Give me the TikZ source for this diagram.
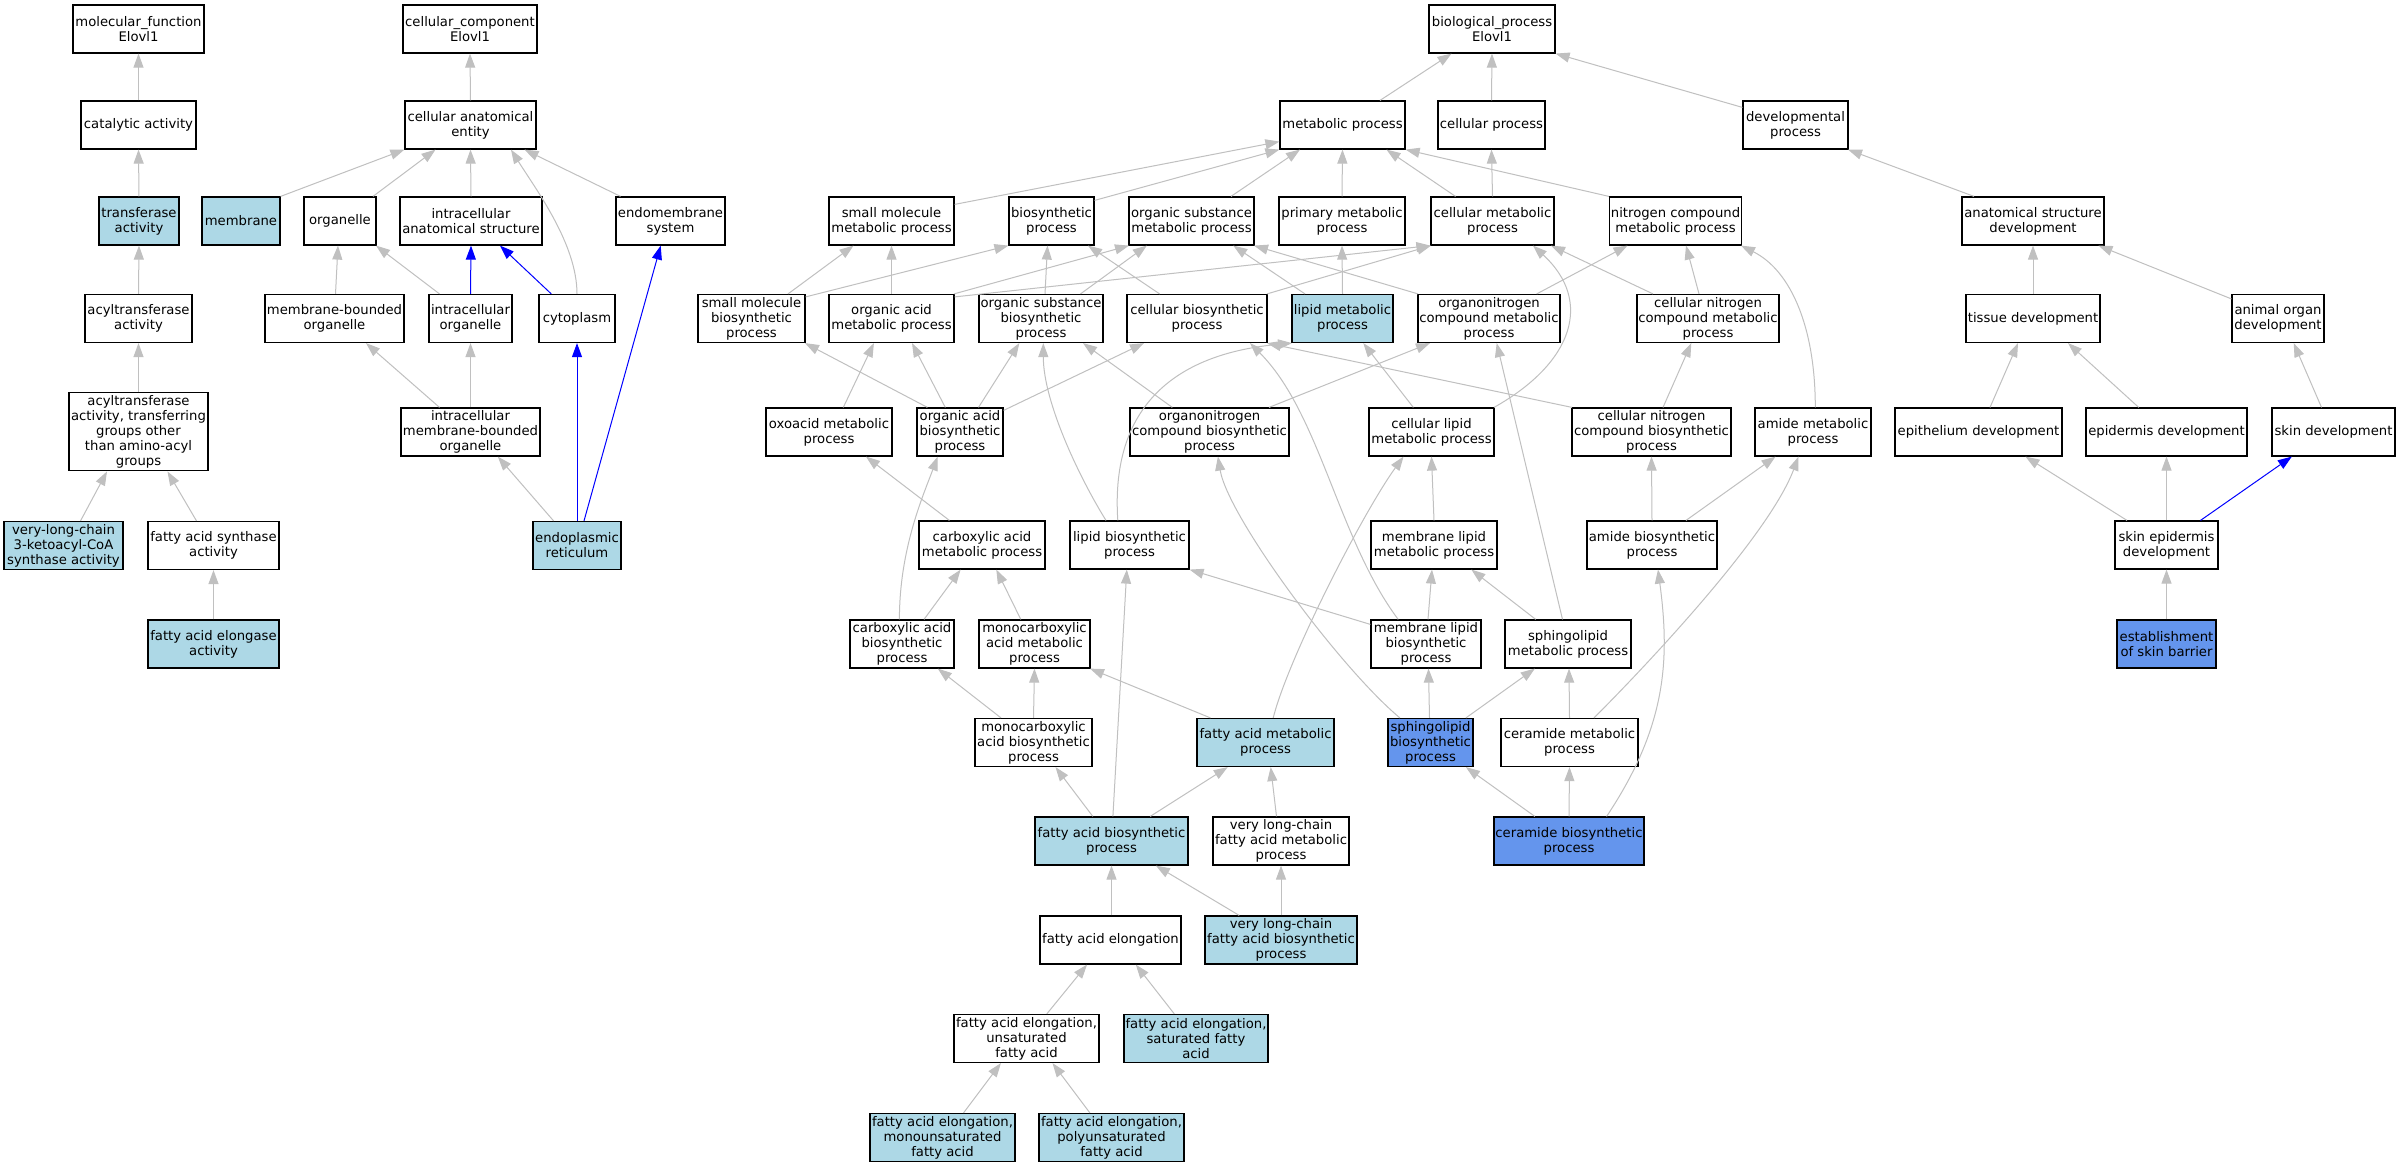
\documentclass[tikz,border=0pt]{standalone}
\usepackage{fontspec}
\setmainfont{DejaVu Sans}
\usetikzlibrary{arrows.meta,calc}

\definecolor{lightblue}{HTML}{ADD8E6}
\definecolor{cornflower}{HTML}{6495ED}
\definecolor{edgegray}{HTML}{C0C0C0}

\tikzset{every picture/.style={line width=0.75pt}}
\tikzset{
	term/.style={draw, rectangle, line width=0.9pt, minimum width=#1*0.75pt, minimum height=36pt, inner sep=1pt, align=center, font=\fontsize{9.9}{11.25}\selectfont},
	lb/.style={fill=lightblue},
	cb/.style={fill=cornflower},
	isa/.style={draw=edgegray, line width=0.75pt, -{Triangle[length=10.5pt,width=7.5pt]}}
}
% straight link: child top (x offset) to parent bottom (x offset)
\newcommand\lnk[5][]{\draw[isa,#1] ($(#2.north)+(#3,0)$) -- ($(#4.south)+(#5,0)$);}
% curved link, last two arguments move the control points
\newcommand\clnk[7][]{\draw[isa,#1] ($(#2.north)+(#3,0)$) .. controls ($(#2.north)+(#3,0)+(#6)$) and ($(#4.south)+(#5,0)+(#7)$) .. ($(#4.south)+(#5,0)$);}

\begin{document}
\begin{tikzpicture}[x=0.75pt,y=0.75pt,yscale=-1,xscale=1]
	\path[fill=white] (0,0) rectangle (2400,1168);
	\useasboundingbox (0,0) rectangle (2400,1168);

	% Text Node: molecular function
	\node[term=131] (mf) at (138.5,29) {molecular\_function\\Elovl1};
	\node[term=115] (cat) at (138.5,125) {catalytic activity};
	\node[term=80,lb] (trans) at (139,221) {transferase\\activity};
	\node[term=107] (acyl) at (138.5,318.5) {acyltransferase\\activity};
	\node[term=139,minimum height=59pt] (acylo) at (138.5,431.5) {acyltransferase\\activity, transferring\\groups other\\than amino-acyl\\groups};
	\node[term=119,lb] (vlck) at (63.5,545.5) {very-long-chain\\3-ketoacyl-CoA\\synthase activity};
	\node[term=131] (fas) at (213.5,545.5) {fatty acid synthase\\activity};
	\node[term=131,lb] (fae) at (213.5,644) {fatty acid elongase\\activity};

	% Text Node: cellular component
	\node[term=134] (cc) at (470,29) {cellular\_component\\Elovl1};
	\node[term=131] (cae) at (470.5,125) {cellular anatomical\\entity};
	\node[term=78,lb] (mem) at (241,221) {membrane};
	\node[term=72] (org) at (340,221) {organelle};
	\node[term=142] (ias) at (471,221) {intracellular\\anatomical structure};
	\node[term=109] (ems) at (670.5,221) {endomembrane\\system};
	\node[term=139] (mbo) at (334.5,318.5) {membrane-bounded\\organelle};
	\node[term=83] (io) at (470.5,318.5) {intracellular\\organelle};
	\node[term=76] (cyt) at (577,318.5) {cytoplasm};
	\node[term=139] (imbo) at (470.5,432) {intracellular\\membrane-bounded\\organelle};
	\node[term=88,lb] (er) at (577,545.5) {endoplasmic\\reticulum};

	% Text Node: biological process, upper rows
	\node[term=126] (bp) at (1492,29) {biological\_process\\Elovl1};
	\node[term=125] (met) at (1342.5,125) {metabolic process};
	\node[term=107] (cp) at (1491.5,125) {cellular process};
	\node[term=105] (dev) at (1795.5,125) {developmental\\process};
	\node[term=125] (smm) at (891.5,221) {small molecule\\metabolic process};
	\node[term=85] (bio) at (1051.5,221) {biosynthetic\\process};
	\node[term=125] (osm) at (1191.5,221) {organic substance\\metabolic process};
	\node[term=126] (pm) at (1342,221) {primary metabolic\\process};
	\node[term=123] (cmp) at (1492.5,221) {cellular metabolic\\process};
	\node[term=131] (ncm) at (1675.5,221) {nitrogen compound\\metabolic process};
	\node[term=142] (asd) at (2033,221) {anatomical structure\\development};
	\node[term=107] (smb) at (751.5,318.5) {small molecule\\biosynthetic\\process};
	\node[term=125] (oam) at (891.5,318.5) {organic acid\\metabolic process};
	\node[term=124] (osb) at (1041,318.5) {organic substance\\biosynthetic\\process};
	\node[term=140] (cbp) at (1197,318.5) {cellular biosynthetic\\process};
	\node[term=101,lb] (lmp) at (1342.5,318.5) {lipid metabolic\\process};
	\node[term=142] (oncm) at (1489,318.5) {organonitrogen\\compound metabolic\\process};
	\node[term=142] (cncm) at (1708,318.5) {cellular nitrogen\\compound metabolic\\process};
	\node[term=134] (td) at (2033,318.5) {tissue development};
	\node[term=92] (aod) at (2278,318.5) {animal organ\\development};
	\node[term=126] (oxo) at (829,432) {oxoacid metabolic\\process};
	\node[term=86] (oab) at (960,432) {organic acid\\biosynthetic\\process};
	\node[term=159] (oncb) at (1209.5,432) {organonitrogen\\compound biosynthetic\\process};
	\node[term=125] (clm) at (1431.5,432) {cellular lipid\\metabolic process};
	\node[term=159] (cncb) at (1651.5,432) {cellular nitrogen\\compound biosynthetic\\process};
	\node[term=116] (amm) at (1813,432) {amide metabolic\\process};
	\node[term=167] (epi) at (1978.5,432) {epithelium development};
	\node[term=161] (epd) at (2166.5,432) {epidermis development};
	\node[term=123] (skd) at (2333.5,432) {skin development};

	% Text Node: biological process, lower rows
	\node[term=126] (cam) at (982,545) {carboxylic acid\\metabolic process};
	\node[term=119] (lbp) at (1129.5,545) {lipid biosynthetic\\process};
	\node[term=126] (mlm) at (1434,545) {membrane lipid\\metabolic process};
	\node[term=130] (amb) at (1652,545) {amide biosynthetic\\process};
	\node[term=103] (sed) at (2166.5,545) {skin epidermis\\development};
	\node[term=104] (cab) at (902,644) {carboxylic acid\\biosynthetic\\process};
	\node[term=111] (mcm) at (1034.5,644) {monocarboxylic\\acid metabolic\\process};
	\node[term=110] (mlb) at (1426,644) {membrane lipid\\biosynthetic\\process};
	\node[term=126] (slm) at (1568,644) {sphingolipid\\metabolic process};
	\node[term=99,cb] (esb) at (2166.5,644) {establishment\\of skin barrier};
	\node[term=117] (mcb) at (1033.5,742.5) {monocarboxylic\\acid biosynthetic\\process};
	\node[term=137,lb] (fam) at (1265.5,742.5) {fatty acid metabolic\\process};
	\node[term=85,cb] (slb) at (1430.5,742.5) {sphingolipid\\biosynthetic\\process};
	\node[term=137] (cem) at (1569.5,742.5) {ceramide metabolic\\process};
	\node[term=153,lb] (fab) at (1111.5,841) {fatty acid biosynthetic\\process};
	\node[term=136] (vlm) at (1281,841) {very long-chain\\fatty acid metabolic\\process};
	\node[term=150,cb] (ceb) at (1569,841) {ceramide biosynthetic\\process};
	\node[term=141] (fel) at (1110.5,940) {fatty acid elongation};
	\node[term=152,lb] (vlb) at (1281,940) {very long-chain\\fatty acid biosynthetic\\process};
	\node[term=145] (feu) at (1026.5,1038.5) {fatty acid elongation,\\unsaturated\\fatty acid};
	\node[term=144,lb] (fes) at (1196,1038.5) {fatty acid elongation,\\saturated fatty\\acid};
	\node[term=145,lb] (fem) at (942.5,1137.5) {fatty acid elongation,\\monounsaturated\\fatty acid};
	\node[term=145,lb] (fep) at (1111.5,1137.5) {fatty acid elongation,\\polyunsaturated\\fatty acid};

	%Links: molecular function
	\lnk{cat}{0}{mf}{0}
	\lnk{trans}{0}{cat}{0}
	\lnk{acyl}{0}{trans}{0}
	\lnk{acylo}{0}{acyl}{0}
	\lnk{vlck}{17}{acylo}{-31.5}
	\lnk{fas}{-17}{acylo}{29}
	\lnk{fae}{0}{fas}{0}

	%Links: cellular component
	\lnk{cae}{0}{cc}{0}
	\draw[isa] (mem.north east) -- (cae.south west);
	\lnk{org}{33}{cae}{-35}
	\lnk{ias}{0}{cae}{0}
	\clnk{cyt}{0}{cae}{40.5}{0,-50}{25,40}
	\lnk{ems}{-50}{cae}{54}
	\lnk{mbo}{1}{org}{-2}
	\lnk{io}{-31}{org}{36}
	\lnk[draw=blue]{io}{0}{ias}{0}
	\lnk[draw=blue]{cyt}{-25.7}{ias}{29}
	\lnk{imbo}{-31}{mbo}{31.5}
	\lnk{imbo}{0}{io}{0}
	\lnk{er}{-23.4}{imbo}{27.3}
	\lnk[draw=blue]{er}{0}{cyt}{0}
	\lnk[draw=blue]{er}{7}{ems}{-9.8}

	%Links: biological process
	\lnk{met}{37.5}{bp}{-40.5}
	\lnk{cp}{0}{bp}{0}
	\draw[isa] ($(dev.north west)+(0,7)$) -- (bp.south east);
	\draw[isa] ($(smm.north east)+(0,8)$) -- ($(met.south west)+(0,-8)$);
	\draw[isa] ($(bio.north east)+(0,4)$) -- (met.south west);
	\lnk{osm}{39.5}{met}{-42.5}
	\lnk{pm}{0}{met}{0}
	\lnk{cmp}{-37}{met}{44}
	\draw[isa] (ncm.north west) -- (met.south east);
	\lnk{cmp}{0}{cp}{0}
	\lnk{asd}{-59}{dev}{52.5}
	\lnk{smb}{36.5}{smm}{-38}
	\draw[isa] ($(smb.north east)+(0,3)$) -- (bio.south west);
	\lnk{oam}{0}{smm}{0}
	\lnk{oam}{62.5}{osm}{-62.5}
	\draw[isa] ($(oam.north east)+(0,3)$) -- (cmp.south west);
	\lnk{osb}{4}{bio}{-4}
	\lnk{osb}{39.5}{osm}{-44.7}
	\lnk{cbp}{-37.4}{bio}{36.5}
	\lnk{cbp}{70}{cmp}{-61.5}
	\lnk{lmp}{-37.5}{osm}{41.8}
	\lnk{lmp}{0}{pm}{0}
	\lnk{oncm}{-71}{osm}{62.5}
	\lnk{oncm}{47.7}{ncm}{-48}
	\lnk{cncm}{-9}{ncm}{10.5}
	\lnk{cncm}{-55}{cmp}{58.5}
	\lnk{td}{0}{asd}{0}
	\draw[isa] ($(aod.north west)+(0,5)$) -- ($(asd.south)+(65.5,0)$);
	\lnk{oxo}{14.3}{oam}{-17.6}
	\lnk{oab}{-32.6}{smb}{53.5}
	\lnk{oab}{-14.7}{oam}{20.5}
	\lnk{oab}{18.5}{osb}{-21.7}
	\draw[isa] ($(oab.north east)+(0,3)$) -- ($(cbp.south)+(-53,0)$);
	\clnk{lbp}{-23.5}{osb}{2.3}{-25,-40}{0,60}
	\clnk{lbp}{-11.7}{lmp}{-50.5}{-8,-120}{-110,10}
	\lnk{oncb}{-37.2}{osb}{42}
	\lnk{oncb}{59.5}{oncm}{-59}
	\lnk{clm}{-18.2}{lmp}{20.8}
	\clnk{clm}{62.5}{cmp}{40.5}{80,-45}{60,55}
	\lnk{cncb}{-79.5}{cbp}{70}
	\lnk{cncb}{11.5}{cncm}{-16.7}
	\clnk{amm}{2.3}{ncm}{65.5}{0,-80}{50,25}
	\lnk{epi}{11.5}{td}{-15}
	\lnk{epd}{-27.8}{td}{35}
	\lnk{skd}{-12}{aod}{15.7}
	\lnk{cam}{-32.6}{oxo}{37}
	\lnk{mlm}{0}{clm}{0}
	\lnk{amb}{0}{cncb}{0}
	\lnk{amb}{34}{amm}{-37.5}
	\lnk{sed}{-39.5}{epi}{47}
	\lnk{sed}{0}{epd}{0}
	\lnk[draw=blue]{sed}{34}{skd}{-41.7}
	\lnk{cab}{22}{cam}{-21.4}
	\clnk{cab}{-2.6}{oab}{-22.3}{0,-70}{-15,40}
	\lnk{mcm}{-13.7}{cam}{14.3}
	\lnk{mlb}{2}{mlm}{-2}
	\draw[isa] ($(mlb.north west)+(0,5)$) -- (lbp.south east);
	\clnk{mlb}{-27.8}{cbp}{53}{-60,-80}{70,70}
	\lnk{slm}{-32.3}{mlm}{37.4}
	\lnk{slm}{-5.5}{oncm}{7.7}
	\lnk{esb}{0}{sed}{0}
	\lnk{mcb}{0}{mcm}{0}
	\lnk{mcb}{-32.5}{cab}{35.8}
	\lnk{fam}{-55}{mcm}{55.5}
	\clnk{fam}{7.7}{clm}{-28}{15,-60}{-40,55}
	\clnk{slb}{-30.6}{oncb}{8.4}{-60,-50}{10,60}
	\lnk{slb}{-1}{mlb}{2.5}
	\lnk{slb}{35.4}{slm}{-33.2}
	\lnk{cem}{0}{slm}{1}
	\clnk{cem}{24.5}{amm}{-14.5}{50,-50}{-30,80}
	\lnk{fab}{-18.7}{mcb}{22}
	\lnk{fab}{38.7}{fam}{-37.8}
	\lnk{fab}{1.4}{lbp}{-2.7}
	\lnk{vlm}{-4.5}{fam}{5.2}
	\lnk{ceb}{-34.2}{slb}{35.4}
	\lnk{ceb}{0}{cem}{0}
	\clnk{ceb}{37.6}{amb}{6}{60,-90}{12,90}
	\lnk{fel}{1}{fab}{0}
	\lnk{vlb}{-41.8}{fab}{44.4}
	\lnk{vlb}{0}{vlm}{0}
	\lnk{feu}{20.3}{fel}{-23.5}
	\lnk{fes}{-21.7}{fel}{25.3}
	\lnk{fem}{21}{feu}{-25.6}
	\lnk{fep}{-21.6}{feu}{26}

\end{tikzpicture}
\end{document}
